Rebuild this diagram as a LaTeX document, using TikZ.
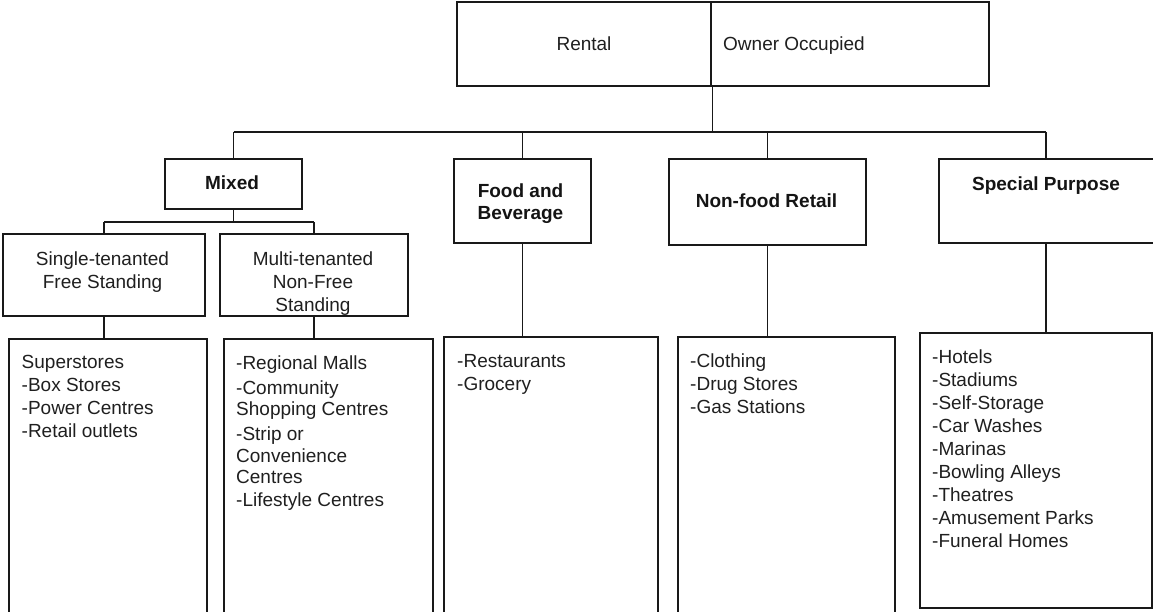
\documentclass[tikz,border=0pt]{standalone}
\usepackage{fontspec}
\setmainfont{Liberation Sans}
\begin{document}
\begin{tikzpicture}[x=1pt,y=-1pt,
  box/.style={draw=black!90, line width=1.8pt, outer sep=0pt, inner sep=0pt, anchor=north west},
  link/.style={draw=black!90, line width=1.8pt},
  body/.style={font=\fontsize{19}{23}\selectfont, text=black!88, inner sep=0pt},
  head/.style={font=\bfseries\fontsize{19}{22}\selectfont, text=black!92, inner sep=0pt},
]
\useasboundingbox (0,0) rectangle (1153,611);
\clip (0,0) rectangle (1153,611);

% ---- boxes ----
\node[box, minimum width=254pt, minimum height=84pt] (rental)  at (457,2) {};
\node[box, minimum width=278pt, minimum height=84pt] (owner)   at (711,2) {};
\node[box, minimum width=137pt, minimum height=50pt] (mixed)   at (165,159) {};
\node[box, minimum width=202pt, minimum height=82pt] (single)  at (3,234) {};
\node[box, minimum width=188pt, minimum height=82pt] (multi)   at (220,234) {};
\node[box, minimum width=137pt, minimum height=84pt] (food)    at (454,159) {};
\node[box, minimum width=197pt, minimum height=86pt] (nonfood) at (669,159) {};
\node[box, minimum width=230pt, minimum height=84pt] (special) at (939,159) {};
\node[box, minimum width=198pt, minimum height=290pt] (listA) at (9,339) {};
\node[box, minimum width=209pt, minimum height=290pt] (listB) at (224,339) {};
\node[box, minimum width=214pt, minimum height=290pt] (listC) at (444,337) {};
\node[box, minimum width=217pt, minimum height=290pt] (listD) at (678,337) {};
\node[box, minimum width=232pt, minimum height=275pt] (listE) at (920,333) {};

% ---- connectors ----
\coordinate (busY) at (0,132);
\coordinate (subY) at (0,222);
\coordinate (spTop) at (1046,159);
\coordinate (spBot) at (1046,243);
\coordinate (spList) at (1046,333);
\draw[link] ([xshift=1.5pt]rental.south east) -- ([xshift=1.5pt]rental.south east |- busY);
\draw[link] (mixed.north |- busY) -- (spTop |- busY);
\draw[link] (mixed.north |- busY) -- (mixed.north);
\draw[link] (food.north |- busY) -- (food.north);
\draw[link] (nonfood.north |- busY) -- (nonfood.north);
\draw[link] (spTop |- busY) -- (spTop);
\draw[link] (mixed.south) -- (mixed.south |- subY);
\draw[link] (single.north |- subY) -- (multi.north |- subY);
\draw[link] (single.north |- subY) -- (single.north);
\draw[link] (multi.north |- subY) -- (multi.north);
\draw[link] (single.south) -- (single.south |- listA.north);
\draw[link] (multi.south) -- (multi.south |- listB.north);
\draw[link] (food.south) -- (food.south |- listC.north);
\draw[link] (nonfood.south) -- (nonfood.south |- listD.north);
\draw[link] (spBot) -- (spList);

% ---- labels ----
\node[body, anchor=base] (tRental) at (584,50) {Rental};
\node[body, anchor=base west] (tOwner) at (723,50) {Owner Occupied};
\node[head, anchor=base] (tMixed) at (232,189) {Mixed};
\node[head, anchor=north, align=center] (tFood) at (520.5,181.6) {\strut Food and\\Beverage};
\node[head, anchor=base] (tNonfood) at (766.5,207) {Non-food Retail};
\node[head, anchor=base] (tSpecial) at (1046,190) {Special Purpose};
\node[body, anchor=north, align=center] (tSingle) at (102.5,248.8) {\strut Single-tenanted\\Free Standing};
\node[body, anchor=north, align=center] (tMulti) at (313,248.8) {\strut Multi-tenanted\\Non-Free\\Standing};

\node[body, anchor=north west, align=left] (tListA) at (21.5,352.2)
  {\strut Superstores\\-Box Stores\\-Power Centres\\-Retail outlets};
\node[body, anchor=north west, align=left, font=\fontsize{19}{21.5}\selectfont] (tListB) at (236,354)
  {\strut -Regional Malls\\[3.5pt]-Community\\Shopping Centres\\[3.5pt]-Strip or\\Convenience\\Centres\\[1.5pt]-Lifestyle Centres};
\node[body, anchor=north west, align=left] (tListC) at (457,351.2)
  {\strut -Restaurants\\-Grocery};
\node[body, anchor=north west, align=left] (tListD) at (690,351)
  {\strut -Clothing\\-Drug Stores\\-Gas Stations};
\node[body, anchor=north west, align=left] (tListE) at (932,347.2)
  {\strut -Hotels\\-Stadiums\\-Self-Storage\\-Car Washes\\-Marinas\\-Bowling Alleys\\-Theatres\\-Amusement Parks\\-Funeral Homes};
\end{tikzpicture}
\end{document}
